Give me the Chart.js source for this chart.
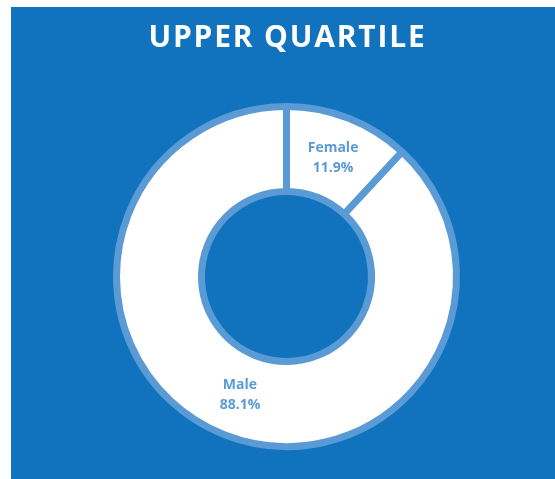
<!DOCTYPE html>
<html>
<head>
<meta charset="utf-8">
<script src="https://cdn.jsdelivr.net/npm/chart.js@4"></script>
<style>
  html, body { margin: 0; padding: 0; background: #ffffff; }
  #wrap { position: relative; width: 555px; height: 479px; overflow: hidden; }
  #panel { position: absolute; left: 11px; top: 7px; width: 544px; height: 472px; background: #1172bd; }
  #chart { position: absolute; left: 0; top: 0; }
</style>
</head>
<body>
<div id="wrap">
  <div id="panel"></div>
  <canvas id="chart" width="555" height="479"></canvas>
</div>
<script>
const TITLE = 'UPPER QUARTILE';
const categories = ['Female', 'Male'];
const shares = [11.9, 88.1];

const RIM = '#5b9bd5';

// heading with a bit of tracking, centred over the ring
const heading = {
  id: 'heading',
  afterDraw(chart) {
    const ctx = chart.ctx;
    const area = chart.chartArea;
    ctx.save();
    ctx.fillStyle = '#ffffff';
    ctx.font = 'bold 30px "Open Sans", sans-serif';
    ctx.letterSpacing = '1.8px';
    ctx.textAlign = 'center';
    ctx.textBaseline = 'middle';
    ctx.fillText(TITLE, (area.left + area.right) / 2 + 1, 38);
    ctx.restore();
  }
};

// "Name / xx.x%" inside each slice
const sliceLabels = {
  id: 'sliceLabels',
  afterDatasetsDraw(chart) {
    const ctx = chart.ctx;
    const meta = chart.getDatasetMeta(0);
    ctx.save();
    ctx.fillStyle = RIM;
    ctx.font = 'bold 14px "Open Sans", sans-serif';
    ctx.textAlign = 'center';
    ctx.textBaseline = 'middle';
    meta.data.forEach((arc, i) => {
      const { x, y, startAngle, endAngle, innerRadius, outerRadius } = arc.getProps(['x', 'y', 'startAngle', 'endAngle', 'innerRadius', 'outerRadius'], true);
      const mid = (startAngle + endAngle) / 2;
      const r = (innerRadius + outerRadius) / 2;
      const cx = x + Math.cos(mid) * r;
      const cy = y + Math.sin(mid) * r;
      ctx.fillText(categories[i], cx, cy - 10);
      ctx.fillText(shares[i].toFixed(1) + '%', cx, cy + 10);
    });
    ctx.restore();
  }
};

new Chart(document.getElementById('chart'), {
  type: 'doughnut',
  data: {
    labels: categories,
    datasets: [{
      data: shares,
      backgroundColor: '#ffffff',
      borderColor: RIM,
      borderWidth: 7,
      hoverOffset: 0,
      offset: 0
    }]
  },
  options: {
    responsive: false,
    animation: false,
    cutout: '50%',
    layout: { padding: { left: 113, right: 95, top: 103, bottom: 29 } },
    plugins: {
      legend: { display: false },
      tooltip: { enabled: false },
      title: { display: false }
    }
  },
  plugins: [sliceLabels, heading]
});
</script>
</body>
</html>
